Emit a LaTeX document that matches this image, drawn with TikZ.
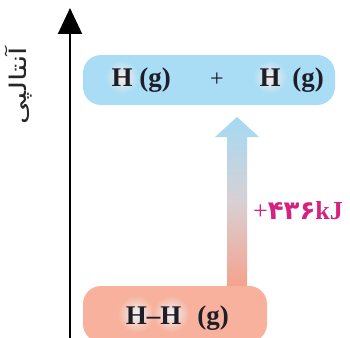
\documentclass[tikz,border=0pt]{standalone}
\usepackage{fontspec}
\usepackage{graphicx}
\setmainfont{Liberation Serif}
\newfontfamily\arabicfont[Script=Arabic]{DejaVu Sans}
\newfontfamily\digitfont{DejaVu Sans}
\TeXXeTstate=1
\usetikzlibrary{arrows.meta,calc}
\definecolor{topblue}{HTML}{A8DDF5}
\definecolor{botsalmon}{HTML}{F8B19C}
\definecolor{arrowblue}{HTML}{A3DAF3}
\definecolor{arrowmid}{HTML}{D8D0D4}
\definecolor{arrowsalmon}{HTML}{F5A28E}
\definecolor{labelmag}{HTML}{D6217E}
\definecolor{halopink}{HTML}{FDEDE6}
\definecolor{haloblue}{HTML}{EEF6F8}
\definecolor{chemtext}{HTML}{1E1E28}
\begin{document}
\begin{tikzpicture}[x=1pt,y=-1pt,
  levelbox/.style={draw=none,rounded corners=18pt,inner sep=0pt},
  halo/.style={circle,draw=none,inner sep=0pt,minimum size=#1},
  chem/.style={anchor=base,inner sep=0pt,text=chemtext,font=\bfseries\fontsize{27}{27}\selectfont},
  axisline/.style={line width=2pt,draw=black,-{Triangle[length=26pt,width=24pt]}}
]
\useasboundingbox (0,0) rectangle (350,337);
\clip (0,0) rectangle (350,337);
\fill[white] (0,0) rectangle (350,337);

% level boxes
\node[levelbox,fill=topblue,minimum width=252pt,minimum height=50pt] (upper) at (209,80) {};
\node[levelbox,fill=botsalmon,minimum width=184pt,minimum height=56pt] (lower) at (175,314) {};

% halos
\node[halo=34pt,inner color=halopink,outer color=topblue] (hA) at (122,77) {};
\node[halo=34pt,inner color=halopink,outer color=topblue] (hB) at (270,77) {};
\node[halo=37pt,inner color=haloblue,outer color=botsalmon] (hC) at (136,314) {};
\node[halo=37pt,inner color=haloblue,outer color=botsalmon] (hD) at (171,314) {};

% texts upper
\node[chem] (t1) at (122,86) {H};
\node[chem] (t2) at (155,86) {(g)};
\node[chem,font=\fontsize{24}{24}\selectfont] (t3) at (217,86) {+};
\node[chem] (t4) at (270,86) {H};
\node[chem] (t5) at (308,86) {(g)};
% texts lower
\node[chem] (t6) at (153.5,324) {H–H};
\node[chem] (t7) at (213,324) {(g)};

% big gradient arrow from lower to upper
\coordinate (abot) at (237,286);
\coordinate (atip) at (237,117);
\shade[top color=arrowblue,bottom color=arrowsalmon,middle color=arrowmid]
  ($(abot)+(-10,0)$) -- ($(atip)+(-10,20)$) -- ($(atip)+(-22,20)$) -- (atip)
  -- ($(atip)+(22,20)$) -- ($(atip)+(10,20)$) -- ($(abot)+(10,0)$) -- cycle;

% label
\node[inner sep=0pt,text=labelmag] (dh) at (298,211)
  {\fontsize{26}{26}\selectfont +\digitfont\bfseries ۴۳۶\rmfamily\bfseries kJ};

% axis
\coordinate (axbot) at (70,340);
\coordinate (axtop) at (70,8);
\draw[axisline] (axbot) -- (axtop);

% axis label
\node[rotate=90,inner sep=0pt,text=black!85,font=\arabicfont\fontsize{23}{23}\selectfont] (ylab) at (19,86) {\scalebox{1.3}[1]{\beginR آنتالپی\endR}};
\end{tikzpicture}
\end{document}
